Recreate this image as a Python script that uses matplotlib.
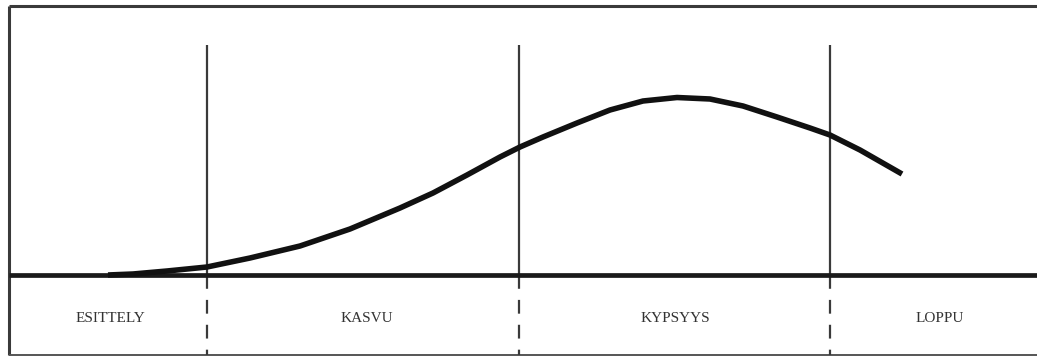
import matplotlib
matplotlib.use("Agg")
import matplotlib.pyplot as plt

# Product life cycle: time (x) vs. sales height (y, above baseline)
curve_time = [108, 133, 167, 207, 250, 300, 350, 400, 433, 467, 500, 520, 543, 577,
              610, 643, 677, 710, 743, 777, 810, 830, 860, 902]
curve_sales = [0, 1, 4, 8, 17, 29, 46, 67, 82, 100, 118, 128, 138, 152,
               165, 174, 177.5, 176, 169, 158, 147, 140, 125, 101]

phase_bounds = [207, 519, 830]
phase_labels = ["ESITTELY", "KASVU", "KYPSYYS", "LOPPU"]
phase_label_x = [110, 367, 675, 940]

fig = plt.figure(figsize=(10.37, 3.56), dpi=100)
ax = fig.add_axes([0, 0, 1, 1])
ax.set_xlim(0, 1037)
ax.set_ylim(-81, 275)
ax.axis("off")

frame_col = "#3a3a3a"
top_y, bottom_y, left_x, right_x = 269, -80, 9, 1037
line_top = 230  # top of phase dividers
# frame (no right edge)
ax.plot([left_x, right_x], [top_y, top_y], color=frame_col, lw=2.2, solid_capstyle="butt")
ax.plot([left_x, left_x], [top_y, bottom_y], color=frame_col, lw=2.2, solid_capstyle="butt")
ax.plot([left_x, right_x], [bottom_y, bottom_y], color="#555555", lw=1.4, solid_capstyle="butt")

# phase dividers
for b in phase_bounds:
    ax.plot([b, b], [line_top, 0], color=frame_col, lw=1.6, solid_capstyle="butt")
    ax.plot([b, b], [0, bottom_y], color=frame_col, lw=1.6, dashes=(6.2, 5.0))

# baseline
ax.plot([left_x, right_x], [0, 0], color="#1a1a1a", lw=3.4, solid_capstyle="butt", zorder=3)

# curve
ax.plot(curve_time, curve_sales, color="#111111", lw=4.0, solid_capstyle="butt",
        solid_joinstyle="round", zorder=4)

for lx, lab in zip(phase_label_x, phase_labels):
    ax.text(lx, -44, lab, ha="center", va="center", fontsize=11,
            family="Liberation Serif", color="#333333")

fig.savefig("out.png", dpi=100)
